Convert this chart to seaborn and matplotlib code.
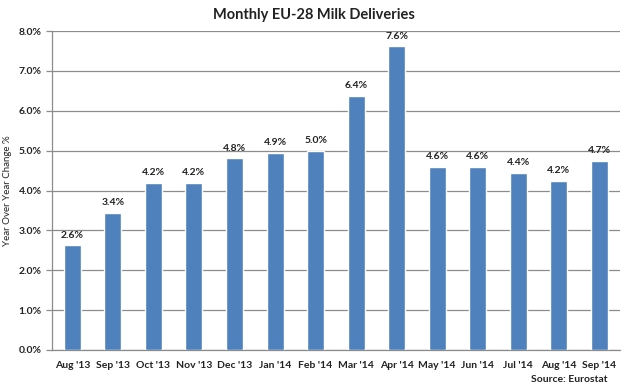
import matplotlib
matplotlib.use("Agg")
import matplotlib.pyplot as plt
import seaborn as sns
import pandas as pd
import numpy as np
from matplotlib.ticker import FuncFormatter, FixedLocator

months = ["Aug '13", "Sep '13", "Oct '13", "Nov '13", "Dec '13", "Jan '14", "Feb '14",
          "Mar '14", "Apr '14", "May '14", "Jun '14", "Jul '14", "Aug '14", "Sep '14"]
values = [2.63, 3.44, 4.19, 4.19, 4.81, 4.94, 4.99, 6.37, 7.62, 4.59, 4.59, 4.44, 4.24, 4.74]
labels = ["2.6%", "3.4%", "4.2%", "4.2%", "4.8%", "4.9%", "5.0%", "6.4%", "7.6%",
          "4.6%", "4.6%", "4.4%", "4.2%", "4.7%"]

sns.set_style("white")
plt.rcParams['font.family'] = ['Lato', 'DejaVu Sans']

df = pd.DataFrame({"month": months, "value": values})

fig = plt.figure(figsize=(6.28, 3.88), dpi=100)
ax = fig.add_axes([0.0828, 0.098, 0.904, 0.822])
sns.barplot(data=df, x="month", y="value", color="#4F81BD", width=0.42,
            saturation=1, ax=ax, zorder=3)

ax.bar_label(ax.containers[0], labels=labels, padding=4, fontsize=7.5,
             fontweight="bold", color="#222222")

ax.set_ylim(0, 8)
ax.set_xlim(-0.5, len(months) - 0.5)
ax.set_yticks(np.arange(0, 8.01, 1))
ax.yaxis.set_major_formatter(FuncFormatter(lambda v, p: f"{v:.1f}%"))
ax.grid(axis="y", color="#8c8c8c", linewidth=0.9, zorder=0)
ax.set_axisbelow(True)

for s in ["top", "right"]:
    ax.spines[s].set_visible(False)
for s in ["left", "bottom"]:
    ax.spines[s].set_color("#8c8c8c")
    ax.spines[s].set_linewidth(0.9)

ax.tick_params(axis="x", which="major", length=0, labelsize=7.5, pad=8)
ax.xaxis.set_minor_locator(FixedLocator(np.arange(-0.5, len(months), 1)))
ax.tick_params(axis="x", which="minor", length=4, color="#8c8c8c", width=0.9)
ax.tick_params(axis="y", which="major", length=4, color="#8c8c8c", width=0.9,
               labelsize=7.5, left=True)
for t in ax.get_xticklabels() + ax.get_yticklabels():
    t.set_fontweight("bold")
    t.set_color("#222222")

ax.set_xlabel("")
ax.set_ylabel("Year Over Year Change %", fontsize=7, color="#222222", labelpad=5)
fig.text(0.5, 0.962, "Monthly EU-28 Milk Deliveries", ha="center", va="center",
         fontsize=10.5, fontweight="bold", color="#222222")
fig.text(0.967, 0.022, "Source: Eurostat", ha="right", va="center",
         fontsize=7.5, fontweight="bold", color="#222222")

fig.savefig("out.png", dpi=100)
